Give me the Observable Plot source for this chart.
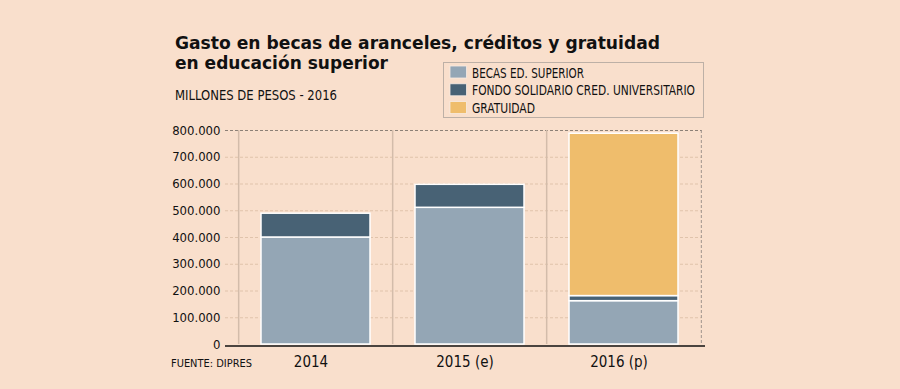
<!DOCTYPE html>
<html>
<head>
<meta charset="utf-8">
<script src="https://cdn.jsdelivr.net/npm/d3@7"></script>
<script src="https://cdn.jsdelivr.net/npm/@observablehq/plot@0.6"></script>
<style>
  html, body { margin: 0; padding: 0; background: #f9dfcc; }
  #wrap { position: relative; width: 900px; height: 389px; background: #f9dfcc; overflow: hidden; }
  #chart { position: absolute; left: 0; top: 0; }
  #overlay { position: absolute; left: 0; top: 0; pointer-events: none; }
</style>
</head>
<body>
<div id="wrap">
  <div id="chart"></div>
  <svg id="overlay" width="900" height="389"></svg>
</div>
<script>
// ---- data ----
const categories = ["2014", "2015 (e)", "2016 (p)"];
const seriesNames = ["BECAS ED. SUPERIOR", "FONDO SOLIDARIO CRED. UNIVERSITARIO", "GRATUIDAD"];
const becas = [400000, 511000, 162000];
const fondo = [89000, 86000, 19000];
const gratuidad = [0, 0, 607000];
const yTicks = [0, 100000, 200000, 300000, 400000, 500000, 600000, 700000, 800000];
const seriesColors = ["#94a6b5", "#486275", "#efbd6c"];
const titleLines = ["Gasto en becas de aranceles, créditos y gratuidad", "en educación superior"];
const subtitle = "MILLONES DE PESOS - 2016";
const source = "FUENTE: DIPRES";

const seriesValues = [becas, fondo, gratuidad];
const rows = [];
categories.forEach((c, i) => {
  seriesNames.forEach((s, j) => {
    const v = seriesValues[j][i];
    if (v > 0) rows.push({cat: c, series: s, value: v});
  });
});

const fmt = d => d3.format(",")(d).replace(/,/g, ".");
const FONT = "'DejaVu Sans Condensed', 'DejaVu Sans', sans-serif";
const xRange = [238, 702];
const half = (xRange[1] - xRange[0]) / categories.length / 2;

const chart = Plot.plot({
  width: 900,
  height: 389,
  marginTop: 130,
  marginBottom: 45,
  marginLeft: 225,
  marginRight: 195,
  style: {background: "transparent", fontFamily: FONT, fontSize: "13px", color: "#1a1a1a"},
  x: {domain: categories, range: xRange, paddingInner: 0.29, paddingOuter: 0.145, label: null},
  y: {domain: [0, 800000], label: null},
  color: {domain: seriesNames, range: seriesColors},
  marks: [
    Plot.ruleY(yTicks.filter(d => d > 0 && d < 800000), {stroke: "#e0c3ab", strokeDasharray: "3,2", insetRight: 3}),
    Plot.ruleY([800000], {stroke: "#8c8076", strokeDasharray: "3,2", insetRight: 3}),
    Plot.ruleX(categories, {x: d => d, dx: -half, stroke: "#d3bcaa", strokeWidth: 1.5}),
    Plot.ruleX([categories[categories.length - 1]], {x: d => d, dx: half, stroke: "#a0958c", strokeDasharray: "3,2"}),
    Plot.barY(rows, {x: "cat", y: "value", fill: "series", stroke: "#ffffff", strokeWidth: 1.5}),
    Plot.ruleY([0], {stroke: "#111", strokeWidth: 1.5, dy: 1.5}),
    Plot.axisY(yTicks, {tickSize: 0, tickPadding: 5, tickFormat: fmt, fontSize: 13, fill: "#111"}),
    Plot.axisX({tickSize: 0, tickPadding: 12, fontSize: 15, dx: -5, fill: "#111"})
  ]
});
document.getElementById("chart").appendChild(chart);

// ---- overlay texts & legend ----
const ov = d3.select("#overlay");
function addText(str, x, y, size, weight, width, fam) {
  const t = ov.append("text")
    .attr("x", x).attr("y", y)
    .attr("font-family", fam || FONT)
    .attr("font-size", size)
    .attr("font-weight", weight)
    .attr("fill", "#111")
    .text(str);
  if (width) t.attr("textLength", width).attr("lengthAdjust", "spacingAndGlyphs");
  return t;
}
const TITLE_FONT = "'DejaVu Sans', sans-serif";
addText(titleLines[0], 175, 48.5, 18.5, "bold", 485, TITLE_FONT);
addText(titleLines[1], 175, 68.5, 18.5, "bold", 213, TITLE_FONT);
addText(subtitle, 175, 100, 14.5, "normal", 162);
addText(source, 171, 367.3, 11, "normal", 81);

// legend
ov.append("rect").attr("x", 443.5).attr("y", 62.5).attr("width", 260).attr("height", 55)
  .attr("fill", "none").attr("stroke", "#bdb0a6").attr("stroke-width", 1);
const legendWidths = [112, 223, 63];
seriesNames.forEach((s, i) => {
  const top = 66 + i * 17.8;
  ov.append("rect").attr("x", 450).attr("y", top).attr("width", 16.5).attr("height", 12)
    .attr("fill", seriesColors[i]).attr("stroke", "#f7ece4").attr("stroke-width", 0.8);
  addText(s, 472, top + 11.5, 13.5, "normal", legendWidths[i]);
});
</script>
</body>
</html>
